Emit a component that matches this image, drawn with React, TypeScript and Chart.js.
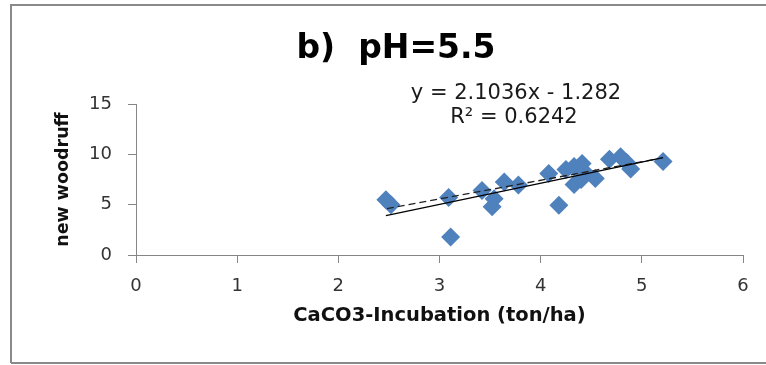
import React, { useEffect, useRef } from "react";
import { Chart, registerables } from "chart.js";

Chart.register(...registerables);

// Data
const pointsX = [2.47, 2.52, 3.09, 3.11, 3.42, 3.54, 3.52, 3.64, 3.78, 4.08, 4.18, 4.25, 4.33, 4.41, 4.33, 4.40, 4.43, 4.54, 4.68, 4.79, 4.85, 4.89, 5.21];
const pointsY = [5.5, 5.0, 5.7, 1.8, 6.4, 5.6, 4.8, 7.25, 6.95, 8.1, 4.95, 8.5, 8.8, 9.1, 7.0, 7.5, 8.3, 7.6, 9.5, 9.75, 9.2, 8.55, 9.3];

const trendX = [2.47, 5.21];
const trendY = [3.92, 9.68];
const dashedX = [2.48, 5.15];
const dashedY = [4.6, 9.55];

const xTicks = [0, 1, 2, 3, 4, 5, 6];
const yTicks = [0, 5, 10, 15];

const titleText = "b)  pH=5.5";
const equationText = "y = 2.1036x - 1.282";
const r2Text = "R² = 0.6242";
const xTitle = "CaCO3-Incubation (ton/ha)";
const yTitle = "new woodruff";

const FONT = "'DejaVu Sans', sans-serif";

export default function App() {
  const ref = useRef<HTMLCanvasElement | null>(null);

  useEffect(() => {
    document.body.style.margin = "0";
    const canvas = ref.current;
    if (!canvas) return;

    const decor = {
      id: "decor",
      afterDraw(chart: any) {
        const ctx = chart.ctx;
        ctx.save();
        // outer frame
        ctx.strokeStyle = "#8a8a8a";
        ctx.lineWidth = 2;
        ctx.beginPath();
        ctx.moveTo(11, 363);
        ctx.lineTo(11, 5);
        ctx.lineTo(770, 5);
        ctx.moveTo(11, 363);
        ctx.lineTo(770, 363);
        ctx.stroke();
        // title
        ctx.fillStyle = "#000";
        ctx.textAlign = "center";
        ctx.textBaseline = "alphabetic";
        ctx.font = `bold 33px ${FONT}`;
        ctx.fillText(titleText, 396, 58);
        // equation
        ctx.fillStyle = "#1a1a1a";
        ctx.font = `21px ${FONT}`;
        ctx.fillText(equationText, 516, 99);
        ctx.fillText(r2Text, 514, 123);
        ctx.restore();
      },
    };

    const chart = new Chart(canvas, {
      type: "scatter",
      data: {
        datasets: [
          {
            type: "line",
            data: trendX.map((x, i) => ({ x, y: trendY[i] })),
            borderColor: "#000",
            borderWidth: 1.3,
            pointRadius: 0,
            fill: false,
          } as any,
          {
            type: "line",
            data: dashedX.map((x, i) => ({ x, y: dashedY[i] })),
            borderColor: "#222",
            borderWidth: 1.3,
            borderDash: [7, 4],
            pointRadius: 0,
            fill: false,
          } as any,
          {
            data: pointsX.map((x, i) => ({ x, y: pointsY[i] })),
            pointStyle: "rectRot",
            pointRadius: 9.5,
            backgroundColor: "#4F81BD",
            borderColor: "#4F81BD",
            borderWidth: 0,
          },
        ],
      },
      options: {
        animation: false,
        responsive: false,
        devicePixelRatio: 1,
        layout: { padding: { left: 0, right: 23, top: 104, bottom: 0 } },
        plugins: { legend: { display: false }, tooltip: { enabled: false }, title: { display: false } },
        scales: {
          x: {
            type: "linear",
            min: 0,
            max: 6,
            afterBuildTicks: (scale: any) => {
              scale.ticks = xTicks.map((v) => ({ value: v }));
            },
            afterFit: (scale: any) => {
              scale.height = 110;
            },
            grid: { drawOnChartArea: false, drawTicks: true, tickLength: 8, color: "#868686" },
            border: { display: true, color: "#868686", width: 1 },
            ticks: { font: { family: FONT, size: 18 }, color: "#333", padding: 13, maxRotation: 0 },
            title: {
              display: true,
              text: xTitle,
              color: "#111",
              font: { family: FONT, size: 19.5, weight: "bold" },
              padding: { top: 0, bottom: 37 },
            },
          },
          y: {
            type: "linear",
            min: 0,
            max: 15,
            afterBuildTicks: (scale: any) => {
              scale.ticks = yTicks.map((v) => ({ value: v }));
            },
            afterFit: (scale: any) => {
              scale.width = 136;
            },
            grid: { drawOnChartArea: false, drawTicks: true, tickLength: 8, color: "#868686" },
            border: { display: true, color: "#868686", width: 1 },
            ticks: { font: { family: FONT, size: 18 }, color: "#333", padding: 16 },
            title: {
              display: true,
              text: yTitle,
              color: "#111",
              font: { family: FONT, size: 17.5, weight: "bold" },
              padding: { top: 53, bottom: 0 },
            },
          },
        },
      },
      plugins: [decor],
    });

    return () => chart.destroy();
  }, []);

  return (
    <div style={{ width: 766, height: 365, background: "#fff" }}>
      <canvas ref={ref} width={766} height={365} style={{ display: "block", width: 766, height: 365 }} />
    </div>
  );
}
